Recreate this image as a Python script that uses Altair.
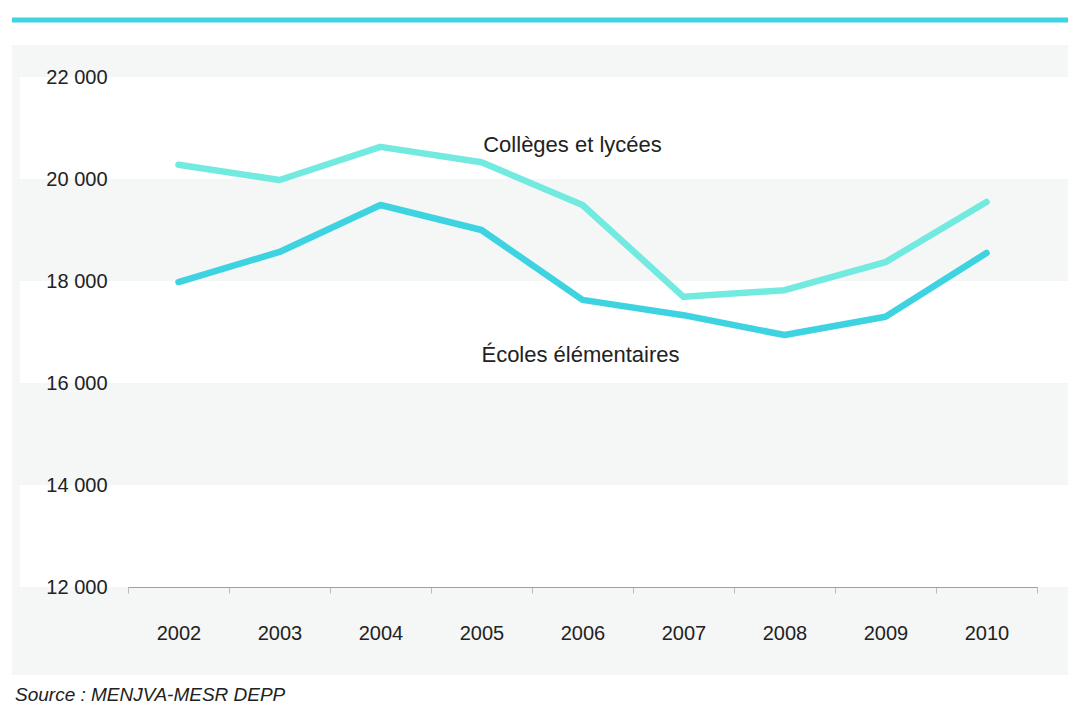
import altair as alt
import pandas as pd

years = ["2002", "2003", "2004", "2005", "2006", "2007", "2008", "2009", "2010"]
colleges = [20280, 19980, 20630, 20330, 19490, 17690, 17820, 18370, 19550]
ecoles = [17980, 18570, 19490, 19000, 17630, 17330, 16940, 17300, 18550]
series_names = ["Collèges et lycées", "Écoles élémentaires"]
series_colors = ["#72eae0", "#3dd3e0"]
y_ticks = [12000, 14000, 16000, 18000, 20000, 22000]
source_text = "Source : MENJVA-MESR DEPP"

FONT = "Liberation Sans, Arial, sans-serif"

rows = []
for y, c, e in zip(years, colleges, ecoles):
    rows.append({"year": y, "value": c, "series": series_names[0]})
    rows.append({"year": y, "value": e, "series": series_names[1]})
df = pd.DataFrame(rows)

W, H = 909, 510

x_scale = alt.Scale(type="band", domain=years, paddingInner=0, paddingOuter=0)
y_scale = alt.Scale(domain=[12000, 22000], nice=False, zero=False)

x_enc = alt.X(
    "year:O",
    scale=x_scale,
    bandPosition=0.5,
    axis=alt.Axis(
        title=None,
        tickBand="extent",
        labelAngle=0,
        labelFont=FONT,
        labelFontSize=20,
        labelColor="#222222",
        labelPadding=30,
        labelBaseline="top",
        tickSize=6,
        tickColor="#bbbbbb",
        domainColor="#a0a0a0",
        domainWidth=1,
        grid=False,
        zindex=1,
    ),
)
y_enc = alt.Y(
    "value:Q",
    scale=y_scale,
    axis=alt.Axis(
        title=None,
        values=y_ticks,
        labelExpr="replace(format(datum.value, ','), ',', ' ')",
        labelFont=FONT,
        labelFontSize=20,
        labelColor="#222222",
        labelPadding=21,
        ticks=False,
        domain=False,
        grid=False,
        zindex=1,
    ),
)

one = pd.DataFrame({"a": [0]})

frame = alt.Chart(one).mark_rect(color="#f5f6f6").encode(
    x=alt.value(-116), x2=alt.value(940), y=alt.value(-32), y2=alt.value(598)
)

bands_df = pd.DataFrame({"y0": [20000, 16000, 12000], "y1": [22000, 18000, 14000]})
white_bands = alt.Chart(bands_df).mark_rect(color="#ffffff").encode(
    y=alt.Y("y0:Q", scale=y_scale),
    y2="y1:Q",
    x=alt.value(-108),
    x2=alt.value(940),
)

top_rule = alt.Chart(one).mark_rule(color="#3fd4df", strokeWidth=5).encode(
    x=alt.value(-116), x2=alt.value(940), y=alt.value(-57)
)

lines = alt.Chart(df).mark_line(strokeWidth=6.5, strokeCap="round", strokeJoin="round").encode(
    x=x_enc,
    y=y_enc,
    color=alt.Color(
        "series:N",
        scale=alt.Scale(domain=series_names, range=series_colors),
        legend=None,
    ),
)

lab_df = pd.DataFrame(
    {
        "year": ["2006", "2006"],
        "value": [20670, 16550],
        "label": series_names,
    }
)
labels_c = alt.Chart(lab_df.iloc[[0]]).mark_text(
    font=FONT, fontSize=22, color="#222222", align="center", baseline="middle", dx=-10
).encode(
    x=alt.X("year:O", scale=x_scale, bandPosition=0.5),
    y=alt.Y("value:Q", scale=y_scale),
    text="label:N",
)
labels_e = alt.Chart(lab_df.iloc[[1]]).mark_text(
    font=FONT, fontSize=22, color="#222222", align="center", baseline="middle", dx=-2
).encode(
    x=alt.X("year:O", scale=x_scale, bandPosition=0.5),
    y=alt.Y("value:Q", scale=y_scale),
    text="label:N",
)

source = alt.Chart(pd.DataFrame({"t": [source_text]})).mark_text(
    font=FONT, fontSize=19, fontStyle="italic", color="#222222", align="left", baseline="alphabetic"
).encode(x=alt.value(-113), y=alt.value(624), text="t:N")

chart = (
    alt.layer(frame, white_bands, top_rule, lines, labels_c, labels_e, source)
    .properties(
        width=W,
        height=H,
        autosize=alt.AutoSizeParams(type="none"),
        padding={"left": 120, "top": 69, "right": 33, "bottom": 121},
    )
    .configure_view(stroke=None)
    .configure(background="#ffffff")
)

chart.save("out.html", embed_options={"renderer": "svg", "actions": False})
